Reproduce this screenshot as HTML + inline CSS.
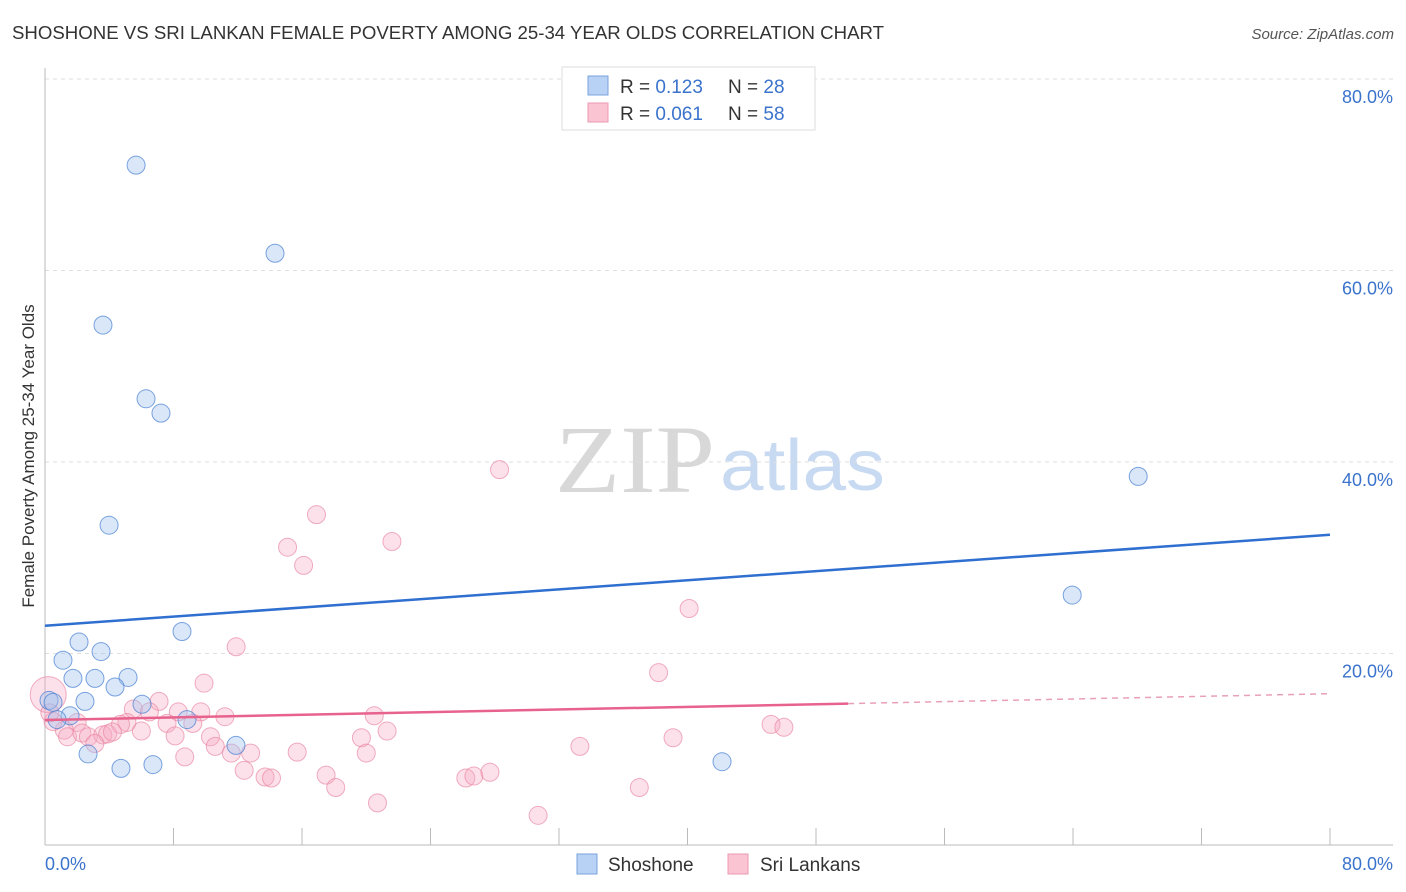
<!DOCTYPE html>
<html><head><meta charset="utf-8"><style>
body{margin:0;background:#fff;}
svg{display:block;font-family:"Liberation Sans",sans-serif;}
</style></head><body>
<svg id="chart" width="1406" height="892">
<text x="12" y="39" font-size="18" fill="#333" textLength="872" lengthAdjust="spacingAndGlyphs">SHOSHONE VS SRI LANKAN FEMALE POVERTY AMONG 25-34 YEAR OLDS CORRELATION CHART</text>
<text x="1394" y="39" font-size="15" fill="#555" font-style="italic" text-anchor="end">Source: ZipAtlas.com</text>
<g>
<text x="555" y="492" font-family="Liberation Serif,serif" font-size="96" fill="#d8d8d8" textLength="160" lengthAdjust="spacingAndGlyphs">ZIP</text>
<text x="720" y="490" font-size="72" fill="#c8daf2" textLength="165" lengthAdjust="spacingAndGlyphs">atlas</text>
</g>
<g id="grid"></g>
<g id="axes"></g>
<g id="marks"></g>
<g id="trends"></g>
<g>
<rect x="562" y="67" width="253" height="63" fill="#fff" stroke="#ddd"/>
<rect x="588" y="76" width="20" height="19" fill="#b8d2f5" stroke="#7aa3dd"/>
<rect x="588" y="103" width="20" height="19" fill="#fac4d3" stroke="#ec9ab2"/>
<text x="620" y="93" font-size="19" fill="#333">R = <tspan fill="#3b73cc">0.123</tspan><tspan x="728">N = </tspan><tspan fill="#3b73cc">28</tspan></text>
<text x="620" y="120" font-size="19" fill="#333">R = <tspan fill="#3b73cc">0.061</tspan><tspan x="728">N = </tspan><tspan fill="#3b73cc">58</tspan></text>
</g>
<g>
<rect x="577" y="854" width="20" height="20" fill="#b8d2f5" stroke="#7aa3dd"/>
<text x="608" y="871" font-size="19" fill="#333">Shoshone</text>
<rect x="728" y="854" width="20" height="20" fill="#fac4d3" stroke="#ec9ab2"/>
<text x="760" y="871" font-size="19" fill="#333">Sri Lankans</text>
</g>
<text transform="translate(34,456) rotate(-90)" font-size="17" fill="#333" text-anchor="middle">Female Poverty Among 25-34 Year Olds</text>
</svg>
<script>
const yTicks=[20,40,60,80];
const yTickLabels=["20.0%","40.0%","60.0%","80.0%"];
const xTicks=[0,8,16,24,32,40,48,56,64,72,80];
const shoX=[5.67,14.32,3.61,6.29,7.22,3.99,68.06,63.95,8.53,2.12,3.49,1.12,1.74,3.11,5.17,4.36,2.49,6.04,0.25,0.5,1.56,0.75,8.84,11.89,2.68,4.73,6.72,42.15];
const shoY=[71.0,61.8,54.3,46.6,45.1,33.4,38.5,26.1,22.3,21.2,20.2,19.3,17.4,17.4,17.5,16.5,15.0,14.7,15.1,14.9,13.5,13.1,13.1,10.4,9.5,8.0,8.4,8.7];
const slPts=[[28.3,39.2],[16.9,34.5],[21.6,31.7],[15.1,31.1],[16.1,29.2],[40.1,24.7],[11.9,20.7],[38.2,18.0],[9.9,16.9],[7.1,15.0],[0.2,15.7],[5.5,14.2],[6.5,13.9],[8.3,13.9],[9.7,13.9],[11.2,13.4],[20.5,13.5],[9.2,12.7],[7.6,12.7],[5.1,12.8],[4.7,12.6],[2.0,12.8],[1.2,12.0],[6.0,11.9],[8.1,11.4],[21.3,11.9],[19.7,11.2],[1.4,11.3],[2.3,11.7],[2.7,11.3],[3.6,11.5],[3.9,11.6],[4.2,11.8],[3.1,10.6],[10.3,11.3],[10.6,10.3],[11.6,9.6],[12.8,9.6],[15.7,9.7],[20.0,9.6],[8.7,9.2],[12.4,7.8],[13.7,7.1],[14.1,7.0],[17.5,7.3],[18.1,6.0],[20.7,4.4],[33.3,10.3],[37.0,6.0],[39.1,11.2],[45.2,12.6],[46.0,12.3],[26.2,7.0],[26.7,7.2],[27.7,7.6],[30.7,3.1],[0.5,12.9],[0.3,13.8]];
const shoTrend=[22.9,32.4];
const slTrend=[13.05,15.8];
const X0=45,X1=1330,Y0=845,Y80=79;
const xs=v=>X0+(X1-X0)*v/80, ys=v=>Y0-(Y0-Y80)*v/80;
const NS="http://www.w3.org/2000/svg";
function mk(tag,attrs,parent){const e=document.createElementNS(NS,tag);for(const k in attrs)e.setAttribute(k,attrs[k]);document.getElementById(parent).appendChild(e);return e;}
yTicks.forEach((t,i)=>{
 const g=mk('line',{x1:45,x2:1393,y1:ys(t),y2:ys(t),stroke:'#ddd','stroke-dasharray':'4,4'},'grid');
 
 
 const l=mk('text',{x:1393,y:ys(t)+24,'font-size':18,fill:'#3b73cc','text-anchor':'end'},'grid');
 l.textContent=yTickLabels[i];
 
 
});
const ya=mk('line',{x1:45,x2:45,y1:68,y2:845,stroke:'#bbb'},'axes');


const xa=mk('line',{x1:45,x2:1393,y1:845,y2:845,stroke:'#bbb'},'axes');


xTicks.forEach(t=>{const tk=mk('line',{x1:xs(t),x2:xs(t),y1:828,y2:845,stroke:'#bbb'},'axes');
 
 });
const xl0=mk('text',{x:45,y:870,'font-size':18,fill:'#3b73cc'},'axes');xl0.textContent='0.0%';


const xl1=mk('text',{x:1393,y:870,'font-size':18,fill:'#3b73cc','text-anchor':'end'},'axes');xl1.textContent='80.0%';


slPts.forEach((p,i)=>{const c=mk('circle',{cx:xs(p[0]),cy:ys(p[1]),r:i==10?18:9,fill:'rgba(247,170,194,0.35)',stroke:'rgba(232,130,160,0.65)','stroke-width':1},'marks');
 
 });
shoX.forEach((x,i)=>{const c=mk('circle',{cx:xs(x),cy:ys(shoY[i]),r:9,fill:'rgba(160,195,240,0.4)',stroke:'rgba(70,125,210,0.7)','stroke-width':1},'marks');
 
 });
const bt=mk('line',{x1:xs(0),y1:ys(shoTrend[0]),x2:xs(80),y2:ys(shoTrend[1]),stroke:'#2f6fd0','stroke-width':2.5},'trends');


const slAt=v=>slTrend[0]+(slTrend[1]-slTrend[0])*v/80;
const pt=mk('line',{x1:xs(0),y1:ys(slTrend[0]),x2:xs(50),y2:ys(slAt(50)),stroke:'#e8628e','stroke-width':2.5},'trends');


const pd=mk('line',{x1:xs(50),y1:ys(slAt(50)),x2:xs(80),y2:ys(slTrend[1]),stroke:'#e8a0b8','stroke-width':1.5,'stroke-dasharray':'6,5'},'trends');


</script>
</body></html>
